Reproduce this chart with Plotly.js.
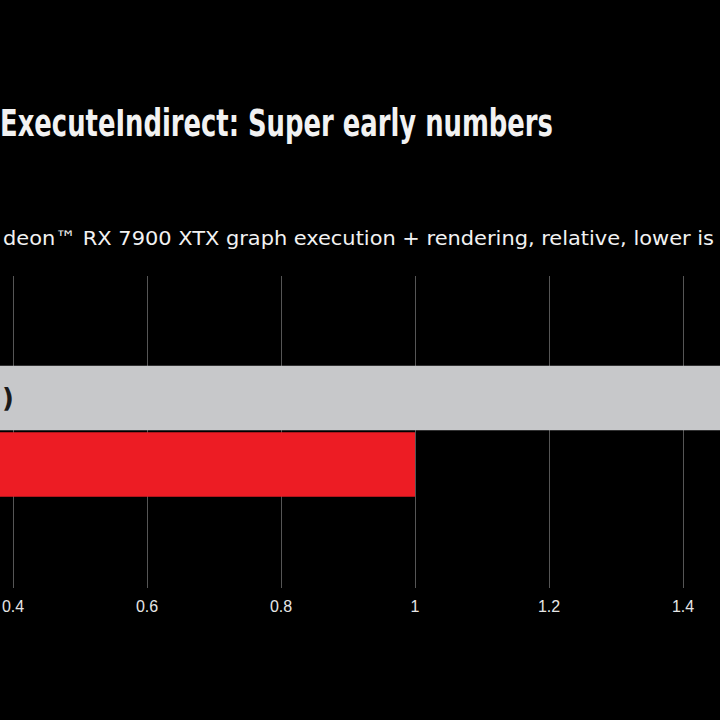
<!DOCTYPE html>
<html><head><meta charset="utf-8">
<script src="https://cdn.plot.ly/plotly-3.0.1.min.js"></script>
<style>html,body{margin:0;padding:0;background:#000;overflow:hidden}#chart{width:720px;height:720px}</style>
</head><body><div id="chart"></div>
<script>
const categories = ['Work Graphs', 'ExecuteIndirect'];
const values = [1.0, 1.62];
const barColors = ['#ed1c24', '#c7c8ca'];
const tickValues = [0.4, 0.6, 0.8, 1.0, 1.2, 1.4];
const tickLabels = ['0.4', '0.6', '0.8', '1', '1.2', '1.4'];
const titleText = 'ExecuteIndirect: Super early numbers';
const subtitleText = 'deon\u2122 RX 7900 XTX graph execution + rendering, relative, lower is';
const barLabel = ')';

const trace = {
  type: 'bar', orientation: 'h',
  x: values, y: categories,
  marker: {color: barColors, line: {width: 0}},
  width: 0.97,
  hoverinfo: 'none'
};

const layout = {
  width: 720, height: 720,
  paper_bgcolor: '#000', plot_bgcolor: '#000',
  margin: {l: 0, r: 0, t: 276, b: 132, pad: 0},
  showlegend: false,
  xaxis: {
    range: [0.3806, 1.4552],
    tickvals: tickValues, ticktext: tickLabels,
    showgrid: true, gridcolor: '#555555', gridwidth: 1,
    zeroline: false, showline: false, ticks: '',
    ticklabelstandoff: 7,
    tickfont: {family: 'Liberation Sans, Arial, sans-serif', size: 16, color: '#e6e6e6'},
    fixedrange: true
  },
  yaxis: {
    type: 'category', categoryorder: 'array', categoryarray: categories,
    range: [-1.857, 2.835],
    showgrid: false, zeroline: false, showline: false, showticklabels: false, ticks: '',
    fixedrange: true
  },
  annotations: [
    {text: titleText, xref: 'paper', yref: 'paper', x: 0, y: 1.49, xanchor: 'left', yanchor: 'middle',
     showarrow: false, font: {family: 'Liberation Sans Narrow, DejaVu Sans Condensed, sans-serif', size: 37, color: '#f2f2f2', weight: 'bold'}},
    {text: subtitleText, xref: 'paper', yref: 'paper', x: 0, y: 1.122, xanchor: 'left', yanchor: 'middle',
     showarrow: false, font: {family: 'Liberation Sans Narrow, DejaVu Sans Condensed, sans-serif', size: 20, color: '#f2f2f2'}},
    {text: barLabel, xref: 'paper', yref: 'y', x: 0, y: 'ExecuteIndirect', xanchor: 'left', yanchor: 'middle',
     xshift: 0, showarrow: false, font: {family: 'DejaVu Sans, sans-serif', size: 26, color: '#1a1a1a', weight: 'bold'}}
  ]
};

const targets = [{left: 0, width: 553}, {left: 3, width: 711}];

Plotly.newPlot('chart', [trace], layout, {staticPlot: true, displayModeBar: false}).then(function () {
  const els = document.querySelectorAll('.annotation-text');
  targets.forEach(function (t, i) {
    const el = els[i];
    if (!el) return;
    const bb = el.getBBox();
    const rect = el.getBoundingClientRect();
    const localLeft = bb.x + (t.left - rect.left);
    el.setAttribute('text-anchor', 'start');
    el.setAttribute('x', localLeft);
    el.setAttribute('textLength', t.width);
    el.setAttribute('lengthAdjust', 'spacingAndGlyphs');
  });
});
</script>
</body></html>
